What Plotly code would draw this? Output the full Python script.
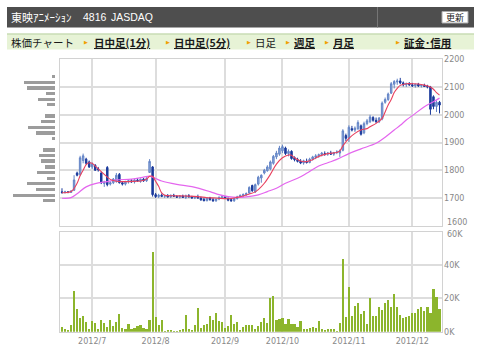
import pandas as pd
import plotly.graph_objects as go

# ---------------- data ----------------
holidays = ["2012-07-16", "2012-09-17", "2012-10-08", "2012-11-23"]
dates = [d.strftime("%Y-%m-%d") for d in pd.bdate_range("2012-06-18", "2012-12-14")
         if d.strftime("%Y-%m-%d") not in holidays]

opens = [1722, 1720, 1722, 1720, 1728, 1790, 1785, 1835, 1840, 1830,
         1812, 1818, 1805, 1790, 1752, 1810, 1750, 1755, 1760, 1785,
         1755, 1750, 1758, 1762, 1758, 1765, 1760, 1768, 1762, 1792,
         1812, 1712, 1705, 1710, 1706, 1708, 1704, 1710, 1706, 1703,
         1707, 1702, 1708, 1704, 1700, 1703, 1700, 1695, 1690, 1700,
         1694, 1690, 1696, 1702, 1704, 1698, 1694, 1690, 1698, 1704,
         1708, 1712, 1718, 1745, 1722, 1750, 1772, 1790, 1798, 1805,
         1825, 1848, 1858, 1870, 1880, 1860, 1868, 1845, 1838, 1832,
         1826, 1832, 1828, 1840, 1846, 1852, 1856, 1860, 1858, 1862,
         1858, 1864, 1862, 1872, 1925, 1915, 1950, 1945, 1950, 1960,
         1935, 1968, 1975, 1990, 1980, 1975, 1985, 2045, 2055, 2078,
         2110, 2118, 2122, 2115, 2108, 2112, 2108, 2104, 2110, 2104,
         2106, 2102, 2100, 2065, 2030, 2045]
highs = [1735, 1726, 1725, 1728, 1782, 1795, 1852, 1860, 1845, 1835,
         1828, 1822, 1812, 1795, 1762, 1815, 1760, 1772, 1790, 1790,
         1760, 1762, 1768, 1768, 1770, 1772, 1770, 1772, 1775, 1840,
         1815, 1718, 1715, 1716, 1712, 1714, 1712, 1715, 1710, 1710,
         1712, 1712, 1714, 1708, 1706, 1712, 1705, 1700, 1703, 1704,
         1700, 1698, 1706, 1708, 1706, 1702, 1700, 1700, 1708, 1712,
         1716, 1720, 1742, 1748, 1752, 1780, 1785, 1805, 1818, 1835,
         1855, 1870, 1888, 1892, 1885, 1875, 1872, 1850, 1845, 1840,
         1838, 1842, 1845, 1852, 1858, 1860, 1866, 1868, 1866, 1870,
         1866, 1872, 1875, 1948, 1932, 1962, 1960, 1958, 1980, 1965,
         1975, 1985, 2000, 1995, 1990, 1992, 2048, 2062, 2080, 2118,
         2125, 2130, 2133, 2120, 2116, 2118, 2115, 2112, 2115, 2110,
         2112, 2108, 2104, 2070, 2052, 2050]
lows = [1715, 1716, 1717, 1718, 1725, 1778, 1780, 1825, 1820, 1808,
        1805, 1798, 1795, 1750, 1740, 1742, 1745, 1750, 1755, 1752,
        1745, 1745, 1752, 1755, 1752, 1758, 1755, 1758, 1758, 1790,
        1705, 1700, 1700, 1703, 1700, 1702, 1700, 1704, 1700, 1698,
        1700, 1696, 1702, 1698, 1696, 1698, 1690, 1688, 1688, 1690,
        1686, 1686, 1692, 1698, 1696, 1688, 1686, 1686, 1694, 1700,
        1704, 1708, 1715, 1722, 1718, 1745, 1755, 1785, 1795, 1800,
        1820, 1840, 1852, 1862, 1855, 1850, 1838, 1832, 1828, 1822,
        1820, 1824, 1825, 1835, 1840, 1845, 1850, 1852, 1852, 1855,
        1852, 1858, 1848, 1868, 1905, 1902, 1940, 1938, 1945, 1925,
        1930, 1962, 1970, 1975, 1970, 1970, 1980, 2040, 2050, 2075,
        2095, 2108, 2110, 2102, 2100, 2104, 2100, 2098, 2100, 2098,
        2100, 2095, 2000, 2020, 2010, 2005]
closes = [1720, 1722, 1720, 1725, 1765, 1782, 1845, 1852, 1825, 1812,
          1822, 1800, 1802, 1755, 1758, 1748, 1755, 1768, 1782, 1755,
          1750, 1758, 1762, 1758, 1765, 1762, 1768, 1762, 1770, 1832,
          1712, 1705, 1710, 1706, 1708, 1704, 1710, 1706, 1703, 1707,
          1702, 1708, 1704, 1700, 1703, 1700, 1693, 1690, 1700, 1694,
          1690, 1696, 1702, 1704, 1698, 1692, 1690, 1698, 1704, 1710,
          1713, 1716, 1738, 1726, 1748, 1775, 1782, 1800, 1812, 1830,
          1850, 1862, 1880, 1885, 1860, 1868, 1842, 1838, 1832, 1826,
          1834, 1828, 1840, 1848, 1852, 1856, 1862, 1858, 1862, 1858,
          1864, 1866, 1870, 1942, 1915, 1955, 1945, 1952, 1972, 1930,
          1968, 1978, 1992, 1980, 1975, 1988, 2042, 2055, 2075, 2112,
          2120, 2122, 2115, 2108, 2112, 2108, 2104, 2110, 2104, 2106,
          2102, 2100, 2020, 2030, 2045, 2035]
volumes_k = [2.8, 2.0, 1.2, 4.0, 24.4, 13.6, 8.2, 9.4, 6.0, 2.0,
             6.6, 5.4, 1.8, 7.0, 5.2, 2.8, 7.0, 3.4, 5.8, 11.0,
             2.6, 2.0, 5.0, 1.6, 2.6, 3.4, 4.2, 2.6, 1.6, 7.4,
             48.0, 8.8, 4.2, 7.4, 0.6, 1.4, 1.0, 0.6, 0.6, 1.4,
             1.6, 10.0, 2.0, 1.4, 4.2, 14.2, 2.6, 4.2, 5.0, 9.4,
             7.0, 11.2, 6.6, 5.8, 2.2, 3.8, 10.0, 5.0, 5.8, 1.4,
             2.8, 4.2, 4.4, 4.4, 1.6, 3.4, 5.8, 8.6, 5.4, 20.6,
             21.4, 7.0, 7.8, 8.6, 5.0, 7.8, 4.6, 4.6, 3.2, 6.6,
             1.6, 1.6, 2.4, 3.2, 2.6, 6.4, 2.0, 1.4, 2.0, 2.0,
             1.6, 0.6, 5.4, 44.0, 9.0, 27.0, 9.4, 15.8, 17.2, 10.6,
             12.4, 5.0, 20.2, 9.4, 9.4, 15.0, 13.0, 17.4, 19.0, 15.0,
             23.0, 15.0, 10.4, 8.4, 9.2, 9.4, 11.2, 11.6, 13.6, 15.2,
             12.4, 14.8, 11.2, 26.0, 21.2, 14.0]

# moving averages (bar number, value)
ma_short_bar = [1, 4, 6, 7, 8, 9, 10, 11, 12, 14, 15, 17, 19, 22, 25, 27, 29, 30, 31, 32, 33, 34, 35,
                38, 42, 46, 49, 52, 56, 59, 61, 63, 65, 66, 68, 70, 72, 74, 76, 77, 78, 80, 82, 84,
                86, 89, 92, 93, 94, 96, 98, 100, 102, 103, 105, 107, 108, 109, 110, 111, 112, 113,
                115, 117, 119, 121, 122, 123, 124, 125, 126]
ma_short_val = [1719, 1723, 1753, 1780, 1800, 1820, 1827, 1825, 1815, 1795, 1785, 1767, 1760, 1759,
                1760, 1761, 1768, 1778, 1778, 1760, 1742, 1718, 1710, 1708, 1707, 1705, 1701, 1700,
                1697, 1702, 1707, 1714, 1722, 1730, 1753, 1785, 1822, 1845, 1855, 1854, 1845, 1833,
                1831, 1838, 1850, 1860, 1864, 1870, 1888, 1915, 1933, 1945, 1950, 1957, 1969, 1987,
                2010, 2035, 2055, 2080, 2095, 2106, 2112, 2112, 2111, 2107, 2104, 2100, 2092, 2080,
                2071]
ma_long_bar = [1, 4, 6, 9, 12, 16, 19, 24, 28, 30, 32, 34, 39, 44, 50, 53, 56, 59, 62, 66, 69, 72,
               75, 79, 82, 86, 89, 92, 96, 100, 105, 108, 111, 113, 115, 118, 121, 124, 126]
ma_long_val = [1699, 1701, 1715, 1740, 1752, 1759, 1765, 1768, 1775, 1779, 1770, 1761, 1749, 1741,
               1723, 1712, 1705, 1702, 1704, 1711, 1723, 1735, 1753, 1771, 1789, 1815, 1827, 1839,
               1860, 1877, 1897, 1919, 1945, 1962, 1981, 2005, 2029, 2047, 2060]

# volume by price (left histogram)
price_bins = [1689, 1709, 1730, 1750, 1770, 1791, 1811, 1832, 1852, 1872, 1893, 1913,
              1933, 1954, 1974, 1994, 2015, 2035, 2055, 2076, 2096, 2116, 2137]
price_bin_vol = [12.3, 41.7, 19.0, 27.7, 8.3, 18.3, 10.0, 14.3, 15.7, 12.3, 0, 3.3,
                 19.0, 26.7, 14.3, 10.0, 0, 7.7, 17.3, 9.0, 27.7, 31.0, 3.3]

month_labels = ["2012/7", "2012/8", "2012/9", "2012/10", "2012/11", "2012/12"]
month_first = ["2012-07-02", "2012-08-01", "2012-09-03", "2012-10-01", "2012-11-01", "2012-12-03"]
price_ticks = [1600, 1700, 1800, 1900, 2000, 2100, 2200]
vol_ticks = [0, 20000, 40000, 60000]
vol_tick_text = ["0K", "20K", "40K", "60K"]

# ---------------- figure ----------------
W, H = 480, 358
X = lambda v: v / W
Y = lambda v: 1 - v / H

idx = list(range(len(dates)))
month_idx = [dates.index(d) for d in month_first]
volumes = [v * 1000 for v in volumes_k]

fig = go.Figure()
fig.add_trace(go.Candlestick(
    x=idx, open=opens, high=highs, low=lows, close=closes,
    increasing=dict(line=dict(color="#6384c6", width=1), fillcolor="#8ea9da"),
    decreasing=dict(line=dict(color="#1b3a9c", width=1), fillcolor="#1b3a9c"),
    xaxis="x", yaxis="y", hoverinfo="skip", showlegend=False))
fig.add_trace(go.Scatter(x=[b - 1 for b in ma_long_bar], y=ma_long_val, mode="lines",
                         line=dict(color="#e466ee", width=1.2, shape="spline"),
                         xaxis="x", yaxis="y", hoverinfo="skip", showlegend=False))
fig.add_trace(go.Scatter(x=[b - 1 for b in ma_short_bar], y=ma_short_val, mode="lines",
                         line=dict(color="#e8405e", width=1.1, shape="spline"),
                         xaxis="x", yaxis="y", hoverinfo="skip", showlegend=False))
fig.add_trace(go.Bar(x=idx, y=volumes, width=0.72, marker=dict(color="#8cb52c", line=dict(width=0)),
                     xaxis="x2", yaxis="y2", hoverinfo="skip", showlegend=False))
fig.add_trace(go.Bar(x=price_bin_vol, y=price_bins, orientation="h", width=12,
                     marker=dict(color="#9c9c9c", line=dict(width=0)),
                     xaxis="x3", yaxis="y3", hoverinfo="skip", showlegend=False))

grid = "#dddddd"
frame = "#d2d2d2"
tickfont = dict(family="DejaVu Sans", size=8, color="#888888")
xr = [-0.66, len(dates) - 1 + 0.66]
xdom = [X(60), X(441.5)]
pdom = [Y(225.7), Y(59.3)]
vdom = [Y(331.7), Y(231.7)]

# the lowest price label and the top volume label are placed as annotations
# (slightly nudged apart) so they do not collide
fig.update_layout(
    width=W, height=H, margin=dict(l=0, r=0, t=0, b=0),
    paper_bgcolor="white", plot_bgcolor="white", showlegend=False, bargap=0,
    xaxis=dict(domain=xdom, range=xr, anchor="y", tickvals=month_idx, showticklabels=False,
               showgrid=True, gridcolor=grid, gridwidth=1.5, zeroline=False, ticks="",
               showline=True, mirror=True, linecolor=frame, linewidth=1,
               rangeslider=dict(visible=False), fixedrange=True),
    yaxis=dict(domain=pdom, range=[1600, 2200], anchor="x", side="right",
               tickvals=price_ticks[1:], showgrid=True, gridcolor=grid, gridwidth=1.5,
               zeroline=False, ticks="", tickfont=tickfont, showline=True, mirror=True,
               linecolor=frame, linewidth=1, automargin=False),
    xaxis2=dict(domain=xdom, range=xr, anchor="y2", tickvals=month_idx, ticktext=month_labels,
                showgrid=True, gridcolor=grid, gridwidth=1.5, zeroline=False, ticks="",
                tickfont=tickfont, showline=True, mirror=True, linecolor=frame, linewidth=1,
                automargin=False, ticklabelstandoff=2),
    yaxis2=dict(domain=vdom, range=[0, 60000], anchor="x2", side="right", tickvals=vol_ticks[:-1],
                ticktext=vol_tick_text[:-1], showgrid=True, gridcolor=grid, gridwidth=1.5,
                zeroline=False, ticks="", tickfont=tickfont, showline=True, mirror=True,
                linecolor=frame, linewidth=1, automargin=False),
    xaxis3=dict(domain=[X(5), X(55)], range=[50, 0], anchor="y3", visible=False),
    yaxis3=dict(domain=pdom, range=[1600, 2200], anchor="x3", visible=False),
)

shapes = []
ann = []
ann.append(dict(text=str(price_ticks[0]), x=X(444.5), y=Y(222.3), xanchor="left", yanchor="middle",
                font=tickfont))
ann.append(dict(text=vol_tick_text[-1], x=X(444.5), y=Y(234.2), xanchor="left", yanchor="middle",
                font=tickfont))
# header bar
shapes.append(dict(type="rect", xref="paper", yref="paper", x0=X(7), x1=X(474), y0=Y(27.5), y1=Y(7),
                   fillcolor="#4e4e4e", line=dict(width=0), layer="below"))
shapes.append(dict(type="line", xref="paper", yref="paper", x0=X(377.5), x1=X(377.5), y0=Y(27.5), y1=Y(7),
                   line=dict(color="#757575", width=1)))
shapes.append(dict(type="rect", xref="paper", yref="paper", x0=X(442), x1=X(468), y0=Y(23), y1=Y(11.5),
                   fillcolor="#ffffff", line=dict(color="#aaaaaa", width=1)))
ann.append(dict(text="東映ｱﾆﾒｰｼｮﾝ", x=X(9), y=Y(17.3), xanchor="left", yanchor="middle",
                font=dict(family="Noto Sans CJK JP", size=11, color="white")))
ann.append(dict(text="4816", x=X(81), y=Y(17.3), xanchor="left", yanchor="middle",
                font=dict(family="Liberation Sans", size=10.5, color="white")))
ann.append(dict(text="JASDAQ", x=X(109), y=Y(17.3), xanchor="left", yanchor="middle",
                font=dict(family="Liberation Sans", size=10.5, color="white")))
ann.append(dict(text="更新", x=X(455), y=Y(17.3), xanchor="center", yanchor="middle",
                font=dict(family="Noto Sans CJK JP", size=9, color="#222222")))
# tab row
shapes.append(dict(type="rect", xref="paper", yref="paper", x0=X(7), x1=X(474), y0=Y(49.5), y1=Y(34),
                   fillcolor="#e7f3d6", line=dict(width=0), layer="below"))
shapes.append(dict(type="line", xref="paper", yref="paper", x0=X(7), x1=X(474), y0=Y(34), y1=Y(34),
                   line=dict(color="#c9dcb4", width=1.5)))
ann.append(dict(text="株価チャート", x=X(9), y=Y(43), xanchor="left", yanchor="middle",
                font=dict(family="Noto Sans CJK JP", size=10.5, color="#1a1a1a")))
tabs = [(84, 92, "<u><b>日中足(1分)</b></u>"), (166, 172, "<u><b>日中足(5分)</b></u>"),
        (247, 253, "日足"), (286, 292, "<u><b>週足</b></u>"), (325, 331, "<u><b>月足</b></u>"),
        (396, 402, "<u><b>証金･信用</b></u>")]
for ax, tx, t in tabs:
    ann.append(dict(text="▶", x=X(ax - 2), y=Y(42.5), xanchor="left", yanchor="middle",
                    font=dict(family="DejaVu Sans", size=5, color="#f0a000")))
    ann.append(dict(text=t, x=X(tx), y=Y(43), xanchor="left", yanchor="middle",
                    font=dict(family="Noto Sans CJK JP", size=10.5, color="#1a1a1a")))

for a in ann:
    a.update(xref="paper", yref="paper", showarrow=False)
fig.update_layout(shapes=shapes, annotations=ann)

fig.write_html("out.html")
